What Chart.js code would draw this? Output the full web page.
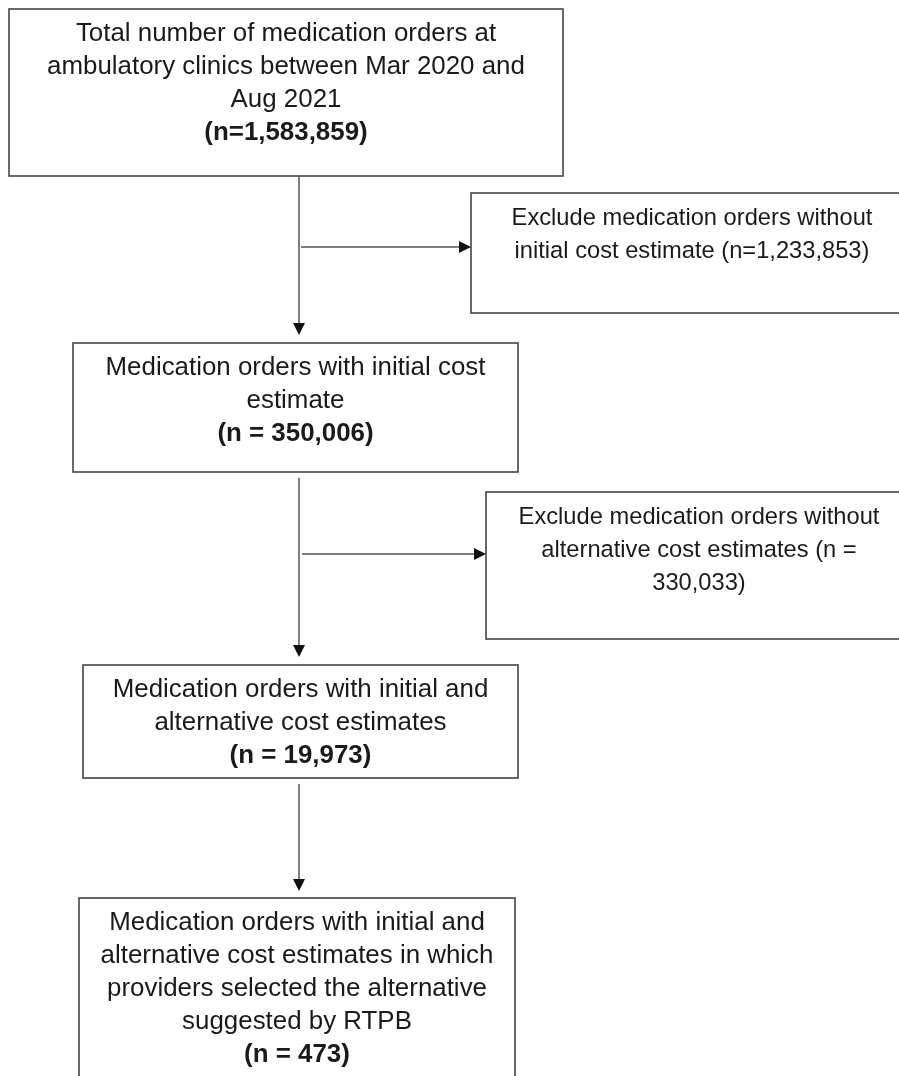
<!DOCTYPE html>
<html>
<head>
<meta charset="utf-8">
<script src="https://cdn.jsdelivr.net/npm/chart.js@4/dist/chart.umd.min.js"></script>
<style>
    html, body { margin: 0; padding: 0; background: #ffffff; }
    #flow { display: block; }
</style>
</head>
<body>
<canvas id="flow" width="899" height="1076"></canvas>
<script>
// flow steps (main column)
const stepTexts = [
    ['Total number of medication orders at', 'ambulatory clinics between Mar 2020 and', 'Aug 2021'],
    ['Medication orders with initial cost', 'estimate'],
    ['Medication orders with initial and', 'alternative cost estimates'],
    ['Medication orders with initial and', 'alternative cost estimates in which', 'providers selected the alternative', 'suggested by RTPB']
];
const stepCounts = [1583859, 350006, 19973, 473];

// exclusions (side boxes)
const excludeTexts = [
    ['Exclude medication orders without', 'initial cost estimate (n=%n)'],
    ['Exclude medication orders without', 'alternative cost estimates (n =', '%n)']
];
const excludeCounts = [1233853, 330033];

// layout in pixel units of the figure: [left, top, right, bottom]
const stepBoxes = [[9, 9, 563, 176], [73, 343, 518, 472], [83, 665, 518, 778], [79, 898, 515, 1090]];
const excludeBoxes = [[471, 193, 913, 313], [486, 492, 912, 639]];
const spineX = 299;
const downArrows = [[176, 335], [478, 657], [784, 891]];
const sideArrows = [[247, 301, 471], [554, 302, 486]];

document.addEventListener('DOMContentLoaded', () => {
    const canvas = document.getElementById('flow');
    const ctx = canvas.getContext('2d');
    const fmt = (n) => n.toLocaleString('en-US');
    const FONT = '"Liberation Sans", Arial, sans-serif';
    const LINE_H = 33;

    function countLine(i) {
        return i === 0 ? '(n=' + fmt(stepCounts[i]) + ')' : '(n = ' + fmt(stepCounts[i]) + ')';
    }

    const flowPlugin = {
        id: 'flowPlugin',
        afterDraw(chart) {
            const c = chart.ctx;
            const xs = chart.scales.x;
            const ys = chart.scales.y;
            const px = (v) => xs.getPixelForValue(v);
            const py = (v) => ys.getPixelForValue(v);

            c.save();

            function drawBox(b) {
                c.strokeStyle = '#444444';
                c.lineWidth = 1.6;
                c.strokeRect(px(b[0]), py(b[1]), px(b[2]) - px(b[0]), py(b[3]) - py(b[1]));
            }

            function drawLines(b, lines, boldLast, size) {
                const cx = (px(b[0]) + px(b[2])) / 2;
                let y = py(b[1]) + 25;
                c.fillStyle = '#1a1a1a';
                c.textAlign = 'center';
                c.textBaseline = 'middle';
                lines.forEach((t, k) => {
                    const bold = boldLast && k === lines.length - 1;
                    c.font = (bold ? 'bold ' : '') + size + 'px ' + FONT;
                    c.fillText(t, cx, y);
                    y += LINE_H;
                });
            }

            function arrowHead(x, y, dir) {
                c.fillStyle = '#111111';
                c.beginPath();
                if (dir === 'down') {
                    c.moveTo(x, y);
                    c.lineTo(x - 6, y - 12);
                    c.lineTo(x + 6, y - 12);
                } else {
                    c.moveTo(x, y);
                    c.lineTo(x - 12, y - 6);
                    c.lineTo(x - 12, y + 6);
                }
                c.closePath();
                c.fill();
            }

            stepBoxes.forEach((b, i) => {
                drawBox(b);
                drawLines(b, stepTexts[i].concat([countLine(i)]), true, 25.9);
            });

            excludeBoxes.forEach((b, i) => {
                drawBox(b);
                const lines = excludeTexts[i].map(t => t.replace('%n', fmt(excludeCounts[i])));
                drawLines(b, lines, false, 23.7);
            });

            c.strokeStyle = '#555555';
            c.lineWidth = 1.5;
            downArrows.forEach(a => {
                c.beginPath();
                c.moveTo(px(spineX), py(a[0]));
                c.lineTo(px(spineX), py(a[1]) - 10);
                c.stroke();
                arrowHead(px(spineX), py(a[1]), 'down');
            });
            sideArrows.forEach(a => {
                c.beginPath();
                c.moveTo(px(a[1]), py(a[0]));
                c.lineTo(px(a[2]) - 10, py(a[0]));
                c.stroke();
                arrowHead(px(a[2]), py(a[0]), 'right');
            });

            c.restore();
        }
    };

    new Chart(ctx, {
        type: 'scatter',
        data: {
            datasets: [{
                data: stepBoxes.map(b => ({ x: (b[0] + b[2]) / 2, y: (b[1] + b[3]) / 2 })),
                pointRadius: 0
            }]
        },
        options: {
            responsive: false,
            devicePixelRatio: 1,
            animation: false,
            layout: { padding: 0 },
            scales: {
                x: { type: 'linear', min: 0, max: 899, display: false },
                y: { type: 'linear', min: 0, max: 1076, reverse: true, display: false }
            },
            plugins: {
                legend: { display: false },
                tooltip: { enabled: false }
            }
        },
        plugins: [flowPlugin]
    });
});
</script>
</body>
</html>
